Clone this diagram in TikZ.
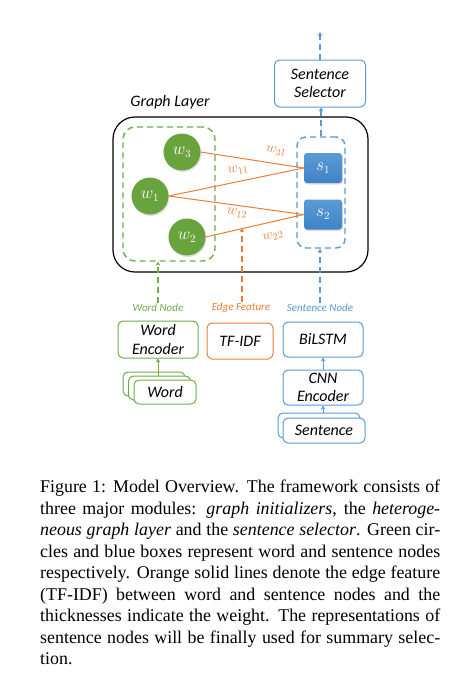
\documentclass[tikz,border=0pt]{standalone}
\usepackage{fontspec}
\setmainfont{Liberation Serif}
\newfontfamily\carlito{Carlito}
\usepackage{tikz}
\usetikzlibrary{arrows.meta,positioning,shadows}

\definecolor{offgreen}{RGB}{112,173,71}
\definecolor{offblue}{RGB}{91,155,213}
\definecolor{offorange}{RGB}{237,125,49}
\definecolor{nodegreen}{RGB}{104,163,62}
\definecolor{nodeblue}{RGB}{62,130,200}

\begin{document}
\begin{tikzpicture}[x=1pt, y=-1pt,
    box/.style={draw, rounded corners=5pt, line width=1pt, align=center,
                fill=white, inner sep=1pt,
                font=\carlito\itshape\fontsize{16}{18.5}\selectfont},
    group/.style={draw, dash pattern=on 6pt off 4pt, rounded corners=12pt,
                  line width=1.4pt},
    wnode/.style={circle, minimum size=37pt, inner sep=0pt, fill=nodegreen,
                  text=white, font=\fontsize{16}{16}\selectfont,
                  drop shadow={opacity=0.25, shadow xshift=1pt, shadow yshift=-1.5pt}},
    snode/.style={rectangle, rounded corners=3pt, minimum width=38pt,
                  minimum height=30pt, top color=offblue, bottom color=nodeblue,
                  text=white, font=\fontsize{16}{16}\selectfont,
                  drop shadow={opacity=0.25, shadow xshift=1pt, shadow yshift=-1.5pt}},
    edge/.style={offorange, line width=1pt},
    wlabel/.style={text=offorange, font=\fontsize{14}{14}\selectfont, inner sep=0pt},
    tag/.style={font=\carlito\itshape\fontsize{11}{11}\selectfont, inner sep=1pt},
    arr/.style={-{Stealth[length=4pt,width=4.5pt]}, line width=1.3pt,
                dash pattern=on 6pt off 4pt},
    up/.style={-{Stealth[length=4pt,width=4.5pt]}, line width=1pt}
  ]
  \fill[white] (0,0) rectangle (456,680);
  \useasboundingbox (0,0) rectangle (456,680);

  % Selector on top
  \node[box, draw=offblue, minimum width=91pt, minimum height=47pt] (selector)
    at (320,83.5) {Sentence\\Selector};
  \coordinate (out) at (320,32);
  \draw[arr, offblue] (selector.north) -- (out);

  % Graph layer
  \node[font=\carlito\itshape\fontsize{16}{16}\selectfont] (glabel) at (170,102) {Graph Layer};
  \node[draw, line width=1.2pt, rounded corners=22pt, minimum width=255pt,
        minimum height=155pt] (graph) at (240.5,194.5) {};
  \node[group, draw=offgreen, minimum width=92pt, minimum height=134pt] (wgroup)
    at (169,194) {};
  \node[group, draw=offblue, minimum width=48pt, minimum height=111pt,
        rounded corners=9pt] (sgroup) at (321,192.5) {};

  % Word and sentence nodes
  \node[wnode] (w3) at (182,152) {$w_3$};
  \node[wnode] (w1) at (150,196) {$w_1$};
  \node[wnode] (w2) at (187,237) {$w_2$};
  \node[snode] (s1) at (323,168) {$s_1$};
  \node[snode] (s2) at (323,214.5) {$s_2$};

  % Edges with TF-IDF weights
  \draw[edge] (w3.east) -- (s1.west);
  \draw[edge] (w1.east) -- (s1.west);
  \draw[edge] (w1.east) -- (s2.west);
  \draw[edge] (w2.east) -- (s2.west);
  \node[wlabel, rotate=-9] (l31) at (276,151) {$w_{31}$};
  \node[wlabel, rotate=11] (l11) at (238,170) {$w_{11}$};
  \node[wlabel, rotate=-8] (l12) at (237,213) {$w_{12}$};
  \node[wlabel, rotate=13] (l22) at (273,236) {$w_{22}$};

  \draw[arr, offblue] (sgroup.north) -- (sgroup.north |- selector.south);

  % Initializer tags
  \node[tag, text=offgreen] (wordtag) at (158,308) {Word Node};
  \node[tag, text=offorange] (edgetag) at (241,308) {Edge Feature};
  \node[tag, text=offblue] (senttag) at (320,308) {Sentence Node};
  \coordinate (edgetip) at (242,228);
  \draw[arr, offgreen] (wordtag.north) -- (wordtag.north |- wgroup.south);
  \draw[arr, offorange] (edgetag.north -| edgetip) -- (edgetip);
  \draw[arr, offblue] (senttag.north) -- (senttag.north |- sgroup.south);

  % Graph initializers
  \node[box, draw=offgreen, minimum width=80pt, minimum height=37pt] (wordenc)
    at (158,339.5) {Word\\Encoder};
  \node[box, draw=offorange, minimum width=66pt, minimum height=36pt] (tfidf)
    at (240,341) {TF-IDF};
  \node[box, draw=offblue, minimum width=80pt, minimum height=35pt] (bilstm)
    at (323,339.5) {BiLSTM};
  \node[box, draw=offblue, minimum width=80pt, minimum height=35pt,
        below=12pt of bilstm] (cnn) {CNN\\Encoder};

  % Input stacks
  \node[box, draw=offgreen, minimum width=62pt, minimum height=24pt] (wordback)
    at (154,384) {};
  \node[box, draw=offgreen, minimum width=62pt, minimum height=24pt] (wordmid)
    at (159.5,388) {};
  \node[box, draw=offgreen, minimum width=62pt, minimum height=24pt] (word)
    at (165,392) {Word};
  \node[box, draw=offblue, minimum width=82pt, minimum height=25pt] (sentback)
    at (319,425.5) {};
  \node[box, draw=offblue, minimum width=82pt, minimum height=25pt] (sent)
    at (324,430.5) {Sentence};

  \draw[up, offgreen] (wordmid.north -| wordenc.south) -- (wordenc.south);
  \draw[up, offblue] (cnn.north) -- (bilstm.south);
  \draw[up, offblue] (sentback.north -| cnn.south) -- (cnn.south);

  % Caption
  \node[anchor=north west, inner sep=0pt, text width=400pt, align=justify,
        font=\fontsize{17.9}{21.5}\selectfont] (caption) at (40,480)
    {Figure 1: Model Overview. The framework consists of\linebreak
     three major modules: \textit{graph initializers}, the \textit{heteroge-}\linebreak
     \textit{neous graph layer} and the \textit{sentence selector}. Green cir-\linebreak
     cles and blue boxes represent word and sentence nodes\linebreak
     respectively. Orange solid lines denote the edge feature\linebreak
     (TF-IDF) between word and sentence nodes and the\linebreak
     thicknesses indicate the weight. The representations of\linebreak
     sentence nodes will be finally used for summary selec-\linebreak
     tion.};
\end{tikzpicture}
\end{document}
